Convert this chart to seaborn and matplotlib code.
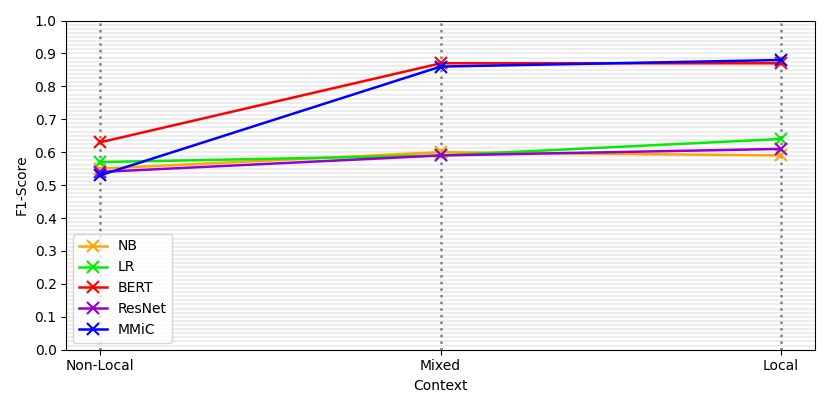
import numpy as np
import pandas as pd
import matplotlib
matplotlib.use("Agg")
import matplotlib.pyplot as plt
import seaborn as sns

contexts = ["Non-Local", "Mixed", "Local"]
nb = [0.55, 0.60, 0.59]
lr = [0.57, 0.59, 0.64]
bert = [0.63, 0.87, 0.87]
resnet = [0.54, 0.59, 0.61]
mmic = [0.53, 0.86, 0.88]
models = ["NB", "LR", "BERT", "ResNet", "MMiC"]
colors = ["orange", "#00ee00", "red", "darkviolet", "blue"]

fig, ax = plt.subplots(figsize=(8.3, 4.08), dpi=100)

# light horizontal stripes
for y in np.arange(0.0125, 1.0, 0.0125):
    ax.axhline(y, color="#ededed", lw=1.6, zorder=0)
for i in range(len(contexts)):
    ax.axvline(i, color="gray", ls=":", lw=1.8, zorder=1)

for m, vals, c in zip(models, [nb, lr, bert, resnet, mmic], colors):
    sns.lineplot(x=list(range(len(contexts))), y=vals, color=c, label=m,
                 marker="x", markersize=8, markeredgewidth=1.5,
                 markeredgecolor=c, lw=1.8, ax=ax, zorder=3)

ax.set_xticks(range(len(contexts)))
ax.set_xticklabels(contexts)
ax.set_xlim(-0.1, 2.1)
ax.set_ylim(0, 1.0)
ax.set_yticks(np.arange(0, 1.01, 0.1))
ax.set_xlabel("Context")
ax.set_ylabel("F1-Score")
ax.legend(loc="lower left", fontsize=10)

plt.tight_layout()
plt.savefig("out.png", dpi=100)
